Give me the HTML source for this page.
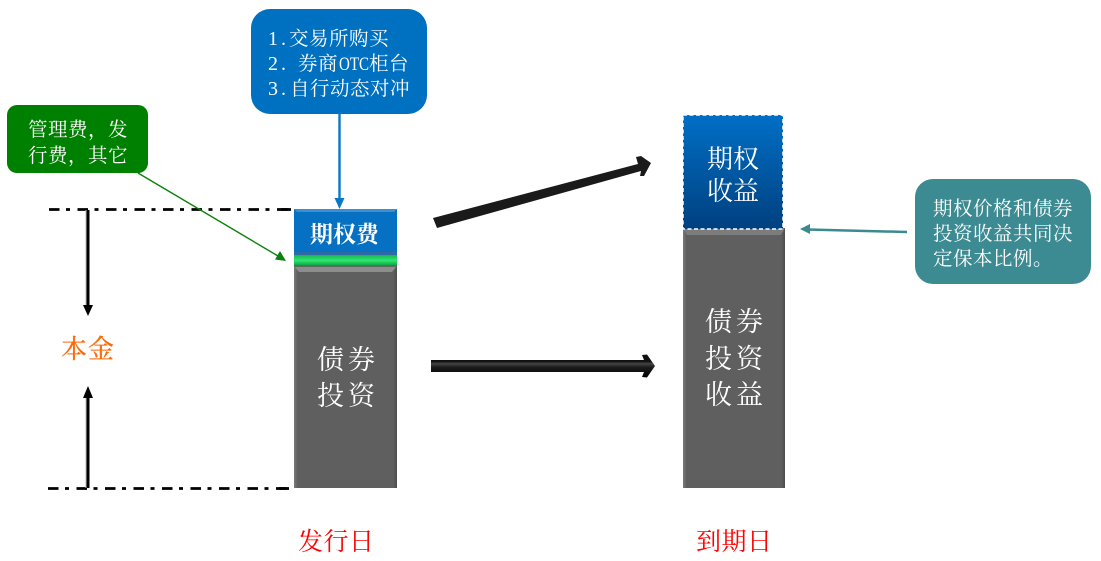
<!DOCTYPE html>
<html><head><meta charset="utf-8">
<style>
html,body{margin:0;padding:0;background:#fff;width:1101px;height:561px;overflow:hidden}
svg{display:block}
text{font-family:"Noto Serif CJK SC","Liberation Serif",serif}
.m{font-family:"Liberation Serif",serif}
</style></head><body>
<svg width="1101" height="561" viewBox="0 0 1101 561" xmlns="http://www.w3.org/2000/svg">
<defs>
<linearGradient id="b2" x1="0" y1="0" x2="0" y2="1"><stop offset="0" stop-color="#006fc6"/><stop offset="1" stop-color="#00407f"/></linearGradient>
<linearGradient id="ar" x1="0" y1="0" x2="0" y2="1"><stop offset="0" stop-color="#111"/><stop offset=".3" stop-color="#111"/><stop offset=".4" stop-color="#444"/><stop offset=".55" stop-color="#1c1c1c"/><stop offset="1" stop-color="#000"/></linearGradient>
<linearGradient id="g" x1="0" y1="0" x2="0" y2="1"><stop offset="0" stop-color="#12b84c"/><stop offset=".5" stop-color="#2ee673"/><stop offset="1" stop-color="#0a9a3c"/></linearGradient>
<linearGradient id="side" x1="0" y1="0" x2="1" y2="0"><stop offset="0" stop-color="#7a7a7a"/><stop offset=".035" stop-color="#5f5f5f"/><stop offset=".965" stop-color="#5f5f5f"/><stop offset="1" stop-color="#4c4c4c"/></linearGradient>
</defs>

<!-- dash-dot guides -->
<g stroke="#000" stroke-width="2.800" fill="none">
<line x1="49" y1="209.500" x2="291" y2="209.500" stroke-dasharray="10.500 6.500 4 7.500"/>
<line x1="281" y1="209.500" x2="291" y2="209.500"/>
<line x1="48" y1="488.500" x2="289" y2="488.500" stroke-dasharray="10.500 6.500 4 7.500"/>
<line x1="279" y1="488.500" x2="289" y2="488.500"/>
</g>
<g fill="none">
<line x1="86" y1="210" x2="86" y2="306" stroke="#bbb" stroke-width="1"/>
<line x1="86" y1="396" x2="86" y2="488" stroke="#bbb" stroke-width="1"/>
<line x1="88" y1="210" x2="88" y2="306" stroke="#000" stroke-width="3"/>
<line x1="88" y1="396" x2="88" y2="488" stroke="#000" stroke-width="3"/>
</g>
<polygon points="83,305 93,305 88,316" fill="#000"/>
<polygon points="83,398 93,398 88,386" fill="#000"/>
<text x="61" y="358" font-size="26" fill="#f96a0a" stroke="#f96a0a" stroke-width=".3" letter-spacing="1">本金</text>

<!-- left column -->
<rect x="294" y="266" width="103" height="222" fill="url(#side)"/>
<polygon points="294,266 397,266 392,272 299,272" fill="#8d8d8d"/>
<rect x="294" y="255" width="103" height="11" fill="url(#g)"/>
<rect x="294" y="265" width="103" height="2" fill="#5b6b5f"/>
<rect x="294" y="209" width="103" height="46" fill="#0670c2"/>
<polygon points="294,209 397,209 394,212 297,212" fill="#3d8fcf"/>
<rect x="294" y="252" width="103" height="3" fill="#2f6aa6"/>
<text x="310" y="242" font-size="23" font-weight="bold" fill="#fff">期权费</text>
<text x="317" y="369" font-size="27" fill="#fff" letter-spacing="4">债券</text>
<text x="317" y="405" font-size="27" fill="#fff" letter-spacing="4">投资</text>

<!-- right column -->
<rect x="683" y="228" width="102" height="260" fill="url(#side)"/>
<polygon points="683,228 785,228 781,235 687,235" fill="#7c7c7c"/>
<rect x="683" y="115" width="100" height="114" fill="url(#b2)" stroke="#fff" stroke-width="1.500" stroke-dasharray="4 2.500"/>
<text x="707" y="168" font-size="26" fill="#fff">期权</text>
<text x="707" y="200" font-size="26" fill="#fff">收益</text>
<text x="705" y="331" font-size="27" fill="#fff" letter-spacing="4">债券</text>
<text x="705" y="368" font-size="27" fill="#fff" letter-spacing="4">投资</text>
<text x="705" y="404" font-size="27" fill="#fff" letter-spacing="4">收益</text>

<!-- big arrows -->
<polygon points="431,360 644,360 642,355 647,354.500 655,366 647,377.500 642,377 644,372 431,372" fill="url(#ar)"/>
<polygon points="433,218 638,164 636,157 641,156 651,163 644,176 640,176 641,171 437,228" fill="#1a1a1a"/>

<!-- blue callout -->
<rect x="251" y="9" width="176" height="105" rx="19" fill="#0070c0"/>
<line x1="339.500" y1="114" x2="339.500" y2="199" stroke="#0a78c8" stroke-width="2.400"/>
<polygon points="334.500,198 344.500,198 339.500,209" fill="#0a78c8"/>
<g fill="#fff" font-size="19.500">
<text x="268" y="45" class="m" font-size="20" letter-spacing="3">1.</text><text x="289" y="45" letter-spacing=".500">交易所购买</text>
<text x="268" y="70" class="m" font-size="20" letter-spacing="3">2.</text><text x="298" y="70" letter-spacing=".500">券商</text><text x="339" y="70" class="m" font-size="19" textLength="30" lengthAdjust="spacingAndGlyphs">OTC</text><text x="369" y="70" letter-spacing=".500">柜台</text>
<text x="268" y="95" class="m" font-size="20" letter-spacing="3">3.</text><text x="290" y="95" letter-spacing=".500">自行动态对冲</text>
</g>

<!-- green callout -->
<line x1="138" y1="173" x2="278" y2="256" stroke="#0a820a" stroke-width="1.400"/>
<polygon points="286,261 275,259.500 280,251" fill="#0a820a"/>
<rect x="7" y="105" width="141" height="68" rx="10" fill="#008000"/>
<text x="28" y="136" font-size="19.500" fill="#fff" letter-spacing=".500">管理费&#xFF0C;发</text>
<text x="28" y="162" font-size="19.500" fill="#fff" letter-spacing=".500">行费&#xFF0C;其它</text>

<!-- teal callout -->
<line x1="907" y1="232" x2="808" y2="229.500" stroke="#3a8a90" stroke-width="2.500"/>
<polygon points="800,229 810,224 810,234" fill="#3a8a90"/>
<rect x="915" y="179" width="176" height="105" rx="18" fill="#3c8a92"/>
<g font-size="19.500" fill="#fff" letter-spacing=".500">
<text x="933" y="215">期权价格和债券</text>
<text x="933" y="240">投资收益共同决</text>
<text x="933" y="265">定保本比例。</text>
</g>

<!-- dates -->
<text x="298" y="550" font-size="25" fill="#f00" letter-spacing=".500">发行日</text>
<text x="696" y="550" font-size="25" fill="#f00" letter-spacing=".500">到期日</text>
</svg>
</body></html>
